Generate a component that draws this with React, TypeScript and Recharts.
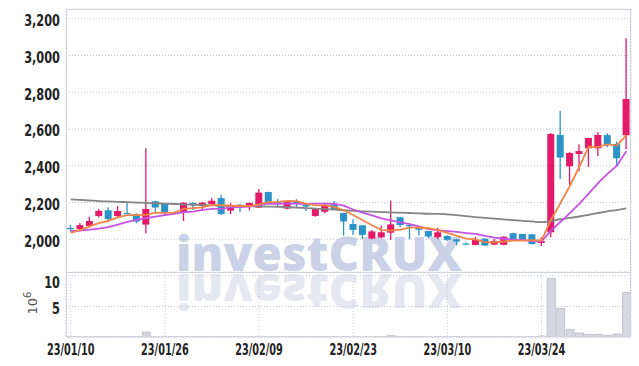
import { ComposedChart, BarChart, Bar, Line, XAxis, YAxis, CartesianGrid } from "recharts";

const dates = [
  "23/01/10", "23/01/11", "23/01/12", "23/01/13", "23/01/16", "23/01/17", "23/01/18", "23/01/19", "23/01/20", "23/01/25",
  "23/01/26", "23/01/27", "23/01/30", "23/01/31", "23/02/01", "23/02/02", "23/02/03", "23/02/06", "23/02/07", "23/02/08",
  "23/02/09", "23/02/10", "23/02/13", "23/02/14", "23/02/15", "23/02/16", "23/02/17", "23/02/20", "23/02/21", "23/02/22",
  "23/02/23", "23/02/24", "23/02/27", "23/02/28", "23/03/02", "23/03/03", "23/03/06", "23/03/07", "23/03/08", "23/03/09",
  "23/03/10", "23/03/13", "23/03/14", "23/03/15", "23/03/16", "23/03/17", "23/03/20", "23/03/21", "23/03/22", "23/03/23",
  "23/03/24", "23/03/27", "23/03/28", "23/03/29", "23/03/30", "23/03/31", "23/04/03", "23/04/04", "23/04/05", "23/04/06",
];

const opens = [
  2062, 2055, 2073, 2127, 2158, 2127, 2142, 2137, 2080, 2207,
  2192, 2145, 2147, 2198, 2184, 2192, 2224, 2156, 2188, 2180,
  2172, 2257, 2203, 2167, 2207, 2186, 2127, 2150, 2190, 2143,
  2083, 2076, 2004, 2010, 2036, 2120, 2077, 2068, 2045, 2011,
  2018, 2000, 1977, 1969, 2003, 1971, 1970, 2033, 2029, 2027,
  1980, 2038, 2568, 2397, 2464, 2495, 2495, 2567, 2519, 2566,
];
const highs = [
  2078, 2088, 2123, 2163, 2174, 2181, 2197, 2140, 2495, 2210,
  2195, 2150, 2203, 2200, 2202, 2225, 2241, 2196, 2192, 2200,
  2274, 2258, 2219, 2206, 2218, 2192, 2168, 2199, 2208, 2145,
  2109, 2078, 2051, 2074, 2210, 2122, 2080, 2072, 2047, 2063,
  2022, 2002, 1982, 2014, 2005, 2002, 2016, 2035, 2030, 2028,
  2011, 2578, 2698, 2473, 2517, 2553, 2582, 2577, 2531, 3094,
];
const lows = [
  2041, 2048, 2065, 2118, 2096, 2120, 2136, 2087, 2033, 2150,
  2127, 2137, 2100, 2160, 2156, 2188, 2132, 2136, 2147, 2156,
  2170, 2197, 2177, 2163, 2177, 2154, 2122, 2141, 2160, 2020,
  2023, 2002, 2000, 2005, 1996, 2065, 2000, 2020, 2005, 2000,
  1990, 1967, 1970, 1967, 1963, 1969, 1968, 1995, 1995, 1972,
  1964, 2011, 2328, 2294, 2370, 2393, 2453, 2501, 2399, 2490,
];
const closes = [
  2058, 2077, 2100, 2155, 2110, 2154, 2138, 2097, 2165, 2173,
  2146, 2142, 2199, 2186, 2199, 2210, 2138, 2180, 2178, 2198,
  2254, 2199, 2192, 2203, 2191, 2178, 2165, 2185, 2163, 2097,
  2051, 2024, 2043, 2038, 2081, 2077, 2074, 2052, 2015, 2038,
  1997, 1988, 1975, 1996, 1966, 1991, 2014, 1997, 1997, 1974,
  1990, 2573, 2445, 2470, 2480, 2551, 2568, 2512, 2441, 2763,
];

const ma5 = [
  2035, 2050, 2070, 2088, 2100, 2119, 2131, 2131, 2133, 2145,
  2144, 2145, 2165, 2169, 2174, 2187, 2186, 2183, 2181, 2181,
  2190, 2202, 2204, 2209, 2208, 2193, 2186, 2184, 2176, 2158,
  2132, 2104, 2076, 2051, 2047, 2053, 2063, 2064, 2060, 2051,
  2035, 2018, 2003, 1999, 1984, 1983, 1988, 1993, 1993, 1995,
  1994, 2106, 2196, 2290, 2392, 2504, 2503, 2516, 2510, 2567,
];
const ma10 = [
  2045, 2047, 2052, 2058, 2066, 2080, 2095, 2106, 2115, 2123,
  2132, 2138, 2148, 2151, 2160, 2166, 2166, 2174, 2175, 2178,
  2188, 2194, 2193, 2195, 2194, 2191, 2194, 2194, 2193, 2183,
  2162, 2145, 2130, 2114, 2103, 2092, 2083, 2070, 2055, 2049,
  2044, 2040, 2034, 2029, 2018, 2009, 2003, 1998, 1996, 1990,
  1989, 2047, 2094, 2142, 2193, 2249, 2305, 2356, 2400, 2479,
];
const maLong = [
  2217, 2214, 2211, 2208, 2206, 2204, 2202, 2200, 2198, 2196,
  2194, 2192, 2190, 2188, 2186, 2184, 2183, 2182, 2181, 2180,
  2179, 2178, 2177, 2175, 2173, 2170, 2167, 2164, 2161, 2158,
  2155, 2152, 2150, 2148, 2146, 2145, 2143, 2141, 2139, 2138,
  2136, 2131, 2126, 2121, 2116, 2112, 2108, 2104, 2100, 2097,
  2093, 2100, 2109, 2116, 2124, 2133, 2143, 2152, 2159, 2168,
];

// volume, in millions
const volumes = [
  0.05, 0.04, 0.05, 0.06, 0.05, 0.04, 0.05, 0.06, 0.8, 0.08,
  0.06, 0.04, 0.05, 0.04, 0.04, 0.05, 0.06, 0.04, 0.03, 0.04,
  0.07, 0.05, 0.04, 0.04, 0.03, 0.04, 0.05, 0.05, 0.04, 0.06,
  0.07, 0.06, 0.05, 0.05, 0.25, 0.06, 0.05, 0.05, 0.04, 0.05,
  0.05, 0.04, 0.03, 0.04, 0.04, 0.03, 0.05, 0.04, 0.04, 0.05,
  0.15, 9.6, 4.7, 1.26, 0.65, 0.44, 0.44, 0.28, 0.5, 7.3,
];

const priceTicks = [2000, 2200, 2400, 2600, 2800, 3000, 3200];
const volumeTicks = [5, 10];
const dateTicks = ["23/01/10", "23/01/26", "23/02/09", "23/02/23", "23/03/10", "23/03/24"];

const UP = "#e31a67";
const DOWN = "#2b93c7";
const GRID = "#c4c7d8";
const FRAME = "#d2d3dc";
const FONT = "'DejaVu Sans Condensed', 'DejaVu Sans', sans-serif";

const data = dates.map((d, i) => ({
  date: d,
  range: [lows[i], highs[i]],
  open: opens[i],
  close: closes[i],
  high: highs[i],
  low: lows[i],
  ma5: ma5[i],
  ma10: ma10[i],
  maLong: maLong[i],
  vol: volumes[i],
}));

// narrow bold labels, squeezed horizontally
function YTick(props: any) {
  const { x, y, payload, format } = props;
  const label = format ? format(payload.value) : String(payload.value);
  return (
    <g transform={`translate(${x},${y + 2}) scale(0.84,1)`}>
      <text textAnchor="end" dy="0.36em" fontFamily={FONT} fontWeight={700} fontSize={15} fill="#222">
        {label}
      </text>
    </g>
  );
}

function XTick(props: any) {
  const { x, y, payload } = props;
  return (
    <g transform={`translate(${x},${y}) scale(0.72,1)`}>
      <text textAnchor="middle" dy="0.71em" fontFamily={FONT} fontWeight={700} fontSize={15} fill="#222">
        {payload.value}
      </text>
    </g>
  );
}

function Candle(props: any) {
  const { x, y, width, height, payload } = props;
  const { open, close, high, low } = payload;
  const top = Math.min(y, y + height);
  const h = Math.abs(height);
  const k = h / (high - low || 1);
  const yOf = (v: number) => top + (high - v) * k;
  const color = close >= open ? UP : DOWN;
  const cx = x + width / 2;
  const bTop = yOf(Math.max(open, close));
  const bBot = yOf(Math.min(open, close));
  return (
    <g>
      <line x1={cx} x2={cx} y1={top} y2={top + h} stroke={color} strokeWidth={1.3} />
      <rect x={x} y={bTop} width={width} height={Math.max(bBot - bTop, 1.2)} fill={color} />
    </g>
  );
}

const fmt = (v: number) => v.toLocaleString("en-US");

export default function App() {
  return (
    <div style={{ position: "absolute", left: 0, top: 0, width: 639, height: 366, background: "#fff" }}>
      <svg width={639} height={366} style={{ position: "absolute", left: 0, top: 0 }}>
        <text
          x={176}
          y={271}
          fontFamily="'Open Sans', 'Noto Sans', sans-serif"
          fontWeight={800}
          fontSize={48}
          fill="#cbd1e6"
          textLength={286}
          lengthAdjust="spacingAndGlyphs"
        >
          investCRUX
        </text>
        <g transform="translate(0,545) scale(1,-1)">
          <text
            x={176}
            y={271}
            fontFamily="'Open Sans', 'Noto Sans', sans-serif"
            fontWeight={800}
            fontSize={48}
            fill="#e6e8f0"
            textLength={286}
            lengthAdjust="spacingAndGlyphs"
          >
            investCRUX
          </text>
        </g>
        <text
          transform="translate(37,303) rotate(-90)"
          textAnchor="middle"
          fontFamily="'DejaVu Sans', sans-serif"
          fontSize={13}
          fill="#555"
        >
          10<tspan dy={-6} fontSize={10}>6</tspan>
        </text>
      </svg>

      <div style={{ position: "absolute", left: 0, top: 0 }}>
        <ComposedChart width={639} height={272} data={data} margin={{ top: 9, right: 8, bottom: 0, left: 0 }}>
          <CartesianGrid stroke={GRID} strokeDasharray="1 2" />
          <XAxis dataKey="date" ticks={dateTicks} height={0} tick={false} axisLine={false} tickLine={false} />
          <YAxis
            domain={[1822, 3253]}
            ticks={priceTicks}
            allowDataOverflow
            width={66}
            axisLine={false}
            tickLine={false}
            tickSize={0}
            tickMargin={6}
            tick={<YTick format={fmt} />}
          />
          <Bar dataKey="range" barSize={7} shape={<Candle />} isAnimationActive={false} />
          <Line dataKey="maLong" type="monotone" stroke="#858585" strokeWidth={1.8} dot={false} isAnimationActive={false} />
          <Line dataKey="ma10" type="linear" stroke="#c653e6" strokeWidth={1.8} dot={false} isAnimationActive={false} />
          <Line dataKey="ma5" type="linear" stroke="#ef8547" strokeWidth={1.8} dot={false} isAnimationActive={false} />
        </ComposedChart>
      </div>

      <div style={{ position: "absolute", left: 0, top: 272 }}>
        <BarChart width={639} height={94} data={data} margin={{ top: 0, right: 8, bottom: 0, left: 0 }}>
          <CartesianGrid stroke={GRID} strokeDasharray="1 2" />
          <XAxis
            dataKey="date"
            ticks={dateTicks}
            interval={0}
            height={29}
            axisLine={{ stroke: FRAME }}
            tickLine={false}
            tickSize={0}
            tickMargin={7}
            tick={<XTick />}
          />
          <YAxis
            domain={[0, 10.66]}
            ticks={volumeTicks}
            allowDataOverflow
            width={66}
            axisLine={false}
            tickLine={false}
            tickSize={0}
            tickMargin={6}
            tick={<YTick />}
          />
          <Bar dataKey="vol" barSize={8} fill="#d7d7df" stroke="#b9b9c5" strokeWidth={0.8} isAnimationActive={false} />
        </BarChart>
      </div>

      <div
        style={{
          position: "absolute",
          left: 66,
          top: 9,
          width: 565,
          height: 328,
          border: `1px solid ${FRAME}`,
          boxSizing: "border-box",
          pointerEvents: "none",
        }}
      />
      <div style={{ position: "absolute", left: 66, top: 272, width: 565, height: 0, borderTop: `1px solid ${FRAME}` }} />
    </div>
  );
}
